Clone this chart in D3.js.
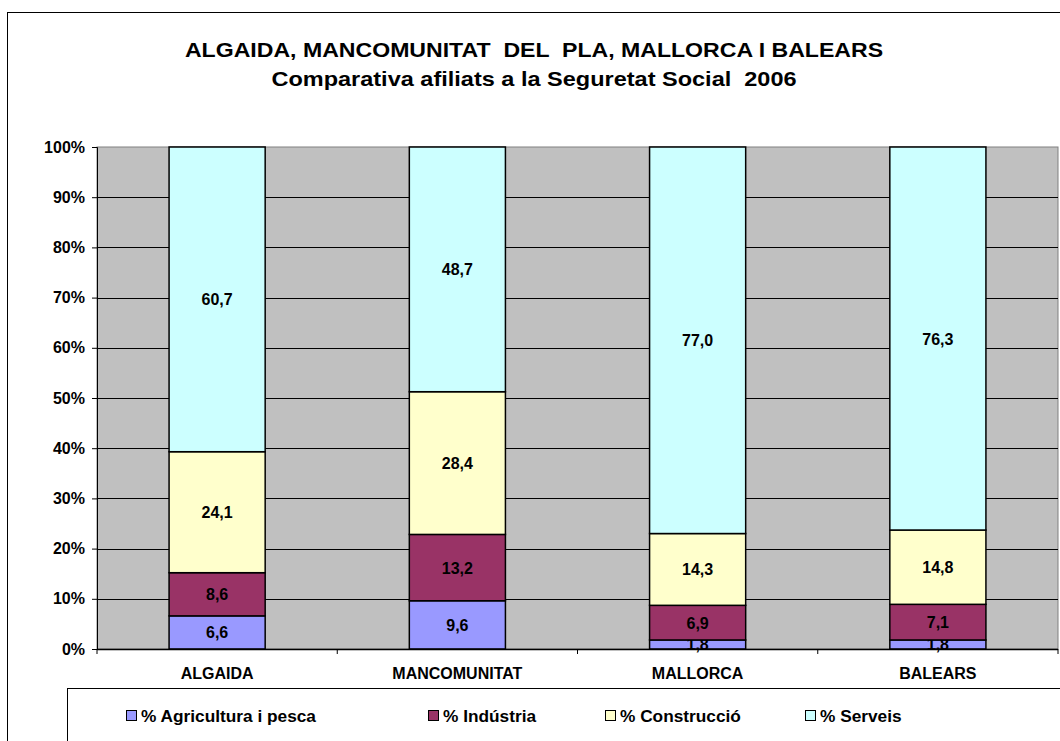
<!DOCTYPE html>
<html>
<head>
<meta charset="utf-8">
<script src="https://cdn.jsdelivr.net/npm/d3@7"></script>
<style>
  body { margin: 0; background: #fff; }
  svg { display: block; font-family: "Liberation Sans", Arial, sans-serif; }
</style>
</head>
<body>
<svg id="chart" width="1060" height="741"></svg>
<script>
const categories = ["ALGAIDA", "MANCOMUNITAT", "MALLORCA", "BALEARS"];
const seriesNames = ["% Agricultura i pesca", "% Indústria", "% Construcció", "% Serveis"];
const agricultura = [6.6, 9.6, 1.8, 1.8];
const industria = [8.6, 13.2, 6.9, 7.1];
const construccio = [24.1, 28.4, 14.3, 14.8];
const serveis = [60.7, 48.7, 77.0, 76.3];
const yTicks = [0, 0.1, 0.2, 0.3, 0.4, 0.5, 0.6, 0.7, 0.8, 0.9, 1];
const colors = ["#9999ff", "#993366", "#ffffcc", "#ccffff"];

const svg = d3.select("#chart");
const W = 1060, H = 741;

// chart frame
svg.append("rect")
  .attr("x", 7.5).attr("y", 12.5)
  .attr("width", W + 20).attr("height", H + 20)
  .style("fill", "#fff").style("stroke", "#000");

// titles (glyphs stretched a bit, like the original renderer)
svg.append("text")
  .attr("transform", "translate(534,57) scale(1.1,1)")
  .attr("text-anchor", "middle")
  .style("font-size", "21px").style("font-weight", "bold")
  .attr("xml:space", "preserve")
  .text("ALGAIDA, MANCOMUNITAT  DEL  PLA, MALLORCA I BALEARS");

svg.append("text")
  .attr("transform", "translate(534,86) scale(1.12,1)")
  .attr("text-anchor", "middle")
  .style("font-size", "21px").style("font-weight", "bold")
  .attr("xml:space", "preserve")
  .text("Comparativa afiliats a la Seguretat Social  2006");

const plot = { left: 97, right: 1058, top: 147, bottom: 649 };

const x = d3.scaleBand()
  .domain(categories)
  .range([plot.left, plot.right])
  .paddingInner(0.6).paddingOuter(0.3);

const y = d3.scaleLinear().domain([0, 1]).range([plot.bottom, plot.top]);

// plot background
svg.append("rect")
  .attr("x", plot.left).attr("y", plot.top)
  .attr("width", plot.right - plot.left).attr("height", plot.bottom - plot.top)
  .style("fill", "#c0c0c0").style("stroke", "#808080");

// gridlines
svg.append("g")
  .selectAll("line")
  .data(yTicks.slice(1, -1))
  .join("line")
  .attr("x1", plot.left).attr("x2", plot.right)
  .attr("y1", d => Math.round(y(d)) + 0.5).attr("y2", d => Math.round(y(d)) + 0.5)
  .style("stroke", "#000");

// stacked data
const rows = categories.map((c, i) => {
  const vals = [agricultura[i], industria[i], construccio[i], serveis[i]];
  const total = d3.sum(vals);
  return { cat: c, vals: vals, total: total };
});

const stack = d3.stack()
  .keys([0, 1, 2, 3])
  .value((d, k) => d.vals[k] / d.total);

const layers = stack(rows);

const fmt = v => v.toFixed(1).replace(".", ",");

layers.forEach((layer, k) => {
  const g = svg.append("g");
  g.selectAll("rect")
    .data(layer)
    .join("rect")
    .attr("x", d => x(d.data.cat))
    .attr("y", d => y(d[1]))
    .attr("width", x.bandwidth())
    .attr("height", d => y(d[0]) - y(d[1]))
    .style("fill", colors[k])
    .style("stroke", "#000")
    .style("stroke-width", 1.5);

  g.selectAll("text")
    .data(layer)
    .join("text")
    .attr("x", d => x(d.data.cat) + x.bandwidth() / 2)
    .attr("y", d => (y(d[0]) + y(d[1])) / 2 + 6)
    .attr("text-anchor", "middle")
    .style("font-size", "16px").style("font-weight", "bold")
    .style("fill", "#000")
    .text(d => fmt(d.data.vals[k]));
});

// y axis
const yAxis = svg.append("g")
  .attr("transform", "translate(" + plot.left + ",0)")
  .call(d3.axisLeft(y).tickValues(yTicks).tickFormat(d3.format(".0%")).tickSize(5).tickPadding(7));
yAxis.select(".domain").style("stroke", "#000");
yAxis.selectAll("text").style("font-size", "16px").style("font-weight", "bold")
  .style("font-family", "'Liberation Sans', Arial, sans-serif");

// x axis
const xAxis = svg.append("g")
  .attr("transform", "translate(0," + plot.bottom + ")");
xAxis.append("line")
  .attr("x1", plot.left).attr("x2", plot.right)
  .attr("y1", 0.5).attr("y2", 0.5)
  .style("stroke", "#000").style("stroke-width", 1.5);
xAxis.selectAll("line.tk")
  .data(d3.range(categories.length + 1))
  .join("line")
  .attr("class", "tk")
  .attr("x1", i => plot.left + i * (plot.right - plot.left) / categories.length)
  .attr("x2", i => plot.left + i * (plot.right - plot.left) / categories.length)
  .attr("y1", 0).attr("y2", 5)
  .style("stroke", "#000");
xAxis.selectAll("text")
  .data(categories)
  .join("text")
  .attr("x", d => x(d) + x.bandwidth() / 2)
  .attr("y", 30)
  .attr("text-anchor", "middle")
  .style("font-size", "16px").style("font-weight", "bold")
  .text(d => d);

// legend
svg.append("rect")
  .attr("x", 67.5).attr("y", 688.5)
  .attr("width", 1010).attr("height", 80)
  .style("fill", "#fff").style("stroke", "#000");

const legendX = [126, 428, 605, 805];
const legend = svg.append("g")
  .selectAll("g")
  .data(seriesNames)
  .join("g")
  .attr("transform", (d, i) => "translate(" + legendX[i] + ",716)");
legend.append("rect")
  .attr("x", 0.5).attr("y", -5.5)
  .attr("width", 10).attr("height", 10)
  .style("fill", (d, i) => colors[i])
  .style("stroke", "#000");
legend.append("text")
  .attr("transform", "translate(15,6) scale(1.08,1)")
  .style("font-size", "16px").style("font-weight", "bold")
  .text(d => d);
</script>
</body>
</html>
